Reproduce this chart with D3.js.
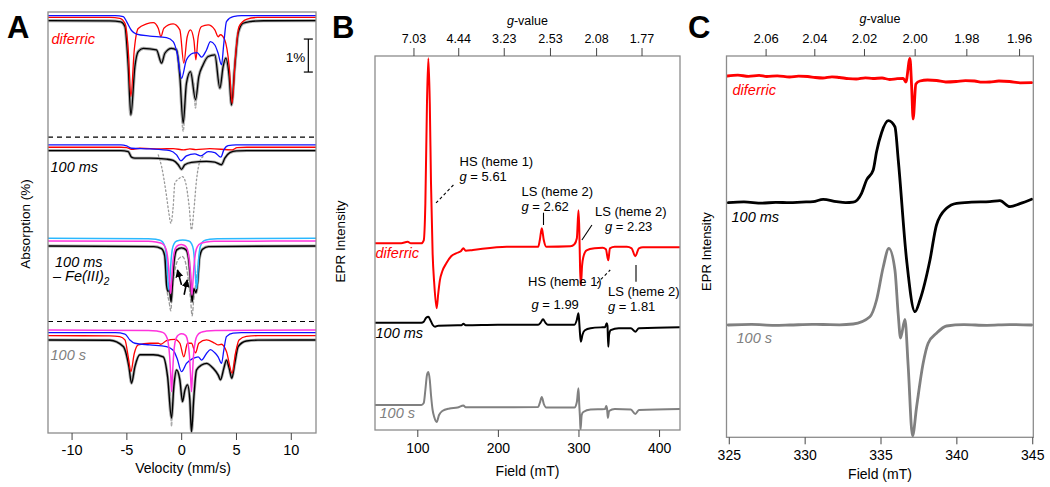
<!DOCTYPE html>
<html><head><meta charset="utf-8">
<script src="https://cdn.jsdelivr.net/npm/d3@7"></script>
<style>
body{margin:0;background:#fff;}
svg text{font-family:"Liberation Sans",Arial,Helvetica,sans-serif;}
</style></head><body>
<svg id="chart" width="1050" height="487"></svg>
<script>
// ---------------- DATA ----------------
// Panel A: Mössbauer, [velocity mm/s, absorption % relative to trace baseline]
const velocityTicks = [-10, -5, 0, 5, 10];

const diferricFit = [[-12.15,0],[-6.5,0.01],[-5.5,0.04],[-5.13,0.18],[-4.83,1.39],[-4.59,2.86],[-4.22,1.39],[-3.92,0.94],[-3.46,0.84],[-2.25,0.89],[-1.79,1.29],[-1.49,0.99],[-0.88,0.84],[-0.42,0.89],[-0.12,1.70],[0.18,3.11],[0.48,1.90],[0.85,1.55],[1.31,2.40],[1.61,1.70],[2.0,1.34],[2.46,1.09],[3.07,1.04],[3.53,2.05],[3.83,1.39],[4.07,1.14],[4.38,1.70],[4.59,2.56],[4.89,1.39],[5.2,0.38],[5.65,0.08],[6.26,0.03],[7.5,0.005],[12.3,0]];
const diferricRed = [[-12.15,0],[-6.5,0.005],[-5.6,0.03],[-5.13,0.18],[-4.83,0.99],[-4.59,2.40],[-4.28,0.99],[-3.92,0.34],[-3.16,0.20],[-2.55,0.16],[-2.09,0.33],[-1.85,0.59],[-1.58,0.33],[-0.73,0.20],[-0.12,0.38],[0.24,1.39],[0.55,0.59],[0.85,0.38],[1.16,0.69],[1.34,1.29],[1.55,0.59],[1.86,0.28],[2.46,0.23],[3.07,0.38],[3.37,0.59],[3.58,0.53],[3.98,0.69],[4.38,1.49],[4.65,2.61],[4.95,1.19],[5.28,0.28],[5.95,0.06],[7,0.005],[12.3,0]];
const diferricBlue = [[-12.15,0],[-6,0],[-5.28,0.03],[-4.98,0.18],[-4.53,0.45],[-4.07,0.56],[-2.86,0.62],[-1.34,0.67],[-0.73,0.79],[-0.37,1.14],[0.03,1.90],[0.48,1.34],[1.09,1.14],[1.46,1.12],[1.86,1.26],[2.31,1.04],[2.67,0.79],[3.07,0.89],[3.37,1.14],[3.68,1.49],[3.89,0.84],[4.13,0.18],[4.74,0.03],[5.5,0],[12.3,0]];
const diferricDataTail = [[-0.05,2.2],[0.18,3.35],[0.4,2.2],[1.15,1.9],[1.31,2.65],[1.47,1.9]];

const ms100Fit = [[-12.15,0],[-5.5,0],[-4.83,0.03],[-4.53,0.20],[-4.22,0.23],[-2.86,0.23],[-1.34,0.26],[-0.73,0.30],[-0.27,0.43],[0.03,0.57],[0.33,0.43],[0.94,0.36],[2.31,0.33],[3.07,0.35],[3.68,0.43],[3.98,0.23],[4.44,0.06],[5.04,0.01],[6,0],[12.3,0]];
const ms100Red = [[-12.15,0],[-5.5,0],[-4.98,0.01],[-4.53,0.06],[-3.77,0.03],[-1.85,0.05],[-0.73,0.04],[0.24,0.08],[0.79,0.05],[1.34,0.07],[2.61,0.04],[4.65,0.08],[5.10,0.01],[6,0],[12.3,0]];
const ms100Blue = [[-12.15,0],[-5.5,0],[-4.98,0.03],[-4.53,0.10],[-2.86,0.12],[-1.03,0.17],[-0.42,0.30],[-0.03,0.48],[0.48,0.33],[1.24,0.27],[1.79,0.33],[2.46,0.20],[3.07,0.23],[3.62,0.37],[3.89,0.15],[4.28,0.02],[5,0],[12.3,0]];
const ms100Data = [[-2.09,0.13],[-1.79,0.48],[-1.33,1.39],[-1.12,1.90],[-0.94,2.20],[-0.73,1.70],[-0.58,0.99],[-0.27,0.87],[0.12,0.79],[0.42,0.99],[0.73,1.70],[0.94,2.40],[1.16,1.80],[1.40,0.89],[1.70,0.33],[2.0,0.18]];

const diffFit = [[-12.15,0],[-2.5,0.02],[-1.8,0.08],[-1.5,0.3],[-1.33,1.2],[-1.2,1.38],[-1.08,1.3],[-0.92,1.69],[-0.78,1.1],[-0.62,0.4],[-0.4,0.12],[0.03,0.06],[0.45,0.12],[0.68,0.4],[0.86,1.1],[1.0,1.69],[1.15,1.3],[1.35,1.42],[1.5,1.1],[1.68,0.35],[1.95,0.1],[2.5,0.02],[12.3,0]];
const diffCyan = [[-12.15,0],[-3,0.01],[-2.3,0.03],[-1.85,0.07],[-1.6,0.16],[-1.42,0.35],[-1.29,0.8],[-1.19,1.35],[-1.12,1.57],[-1.05,1.35],[-0.95,0.8],[-0.82,0.35],[-0.64,0.16],[-0.4,0.08],[0.14,0.05],[0.7,0.08],[0.94,0.16],[1.12,0.35],[1.24,0.8],[1.33,1.3],[1.40,1.52],[1.47,1.3],[1.56,0.8],[1.68,0.35],[1.86,0.16],[2.1,0.07],[2.6,0.03],[3.3,0.01],[12.3,0]];
const diffMagenta = [[-12.15,0],[-3,0.01],[-2.3,0.03],[-1.8,0.07],[-1.5,0.16],[-1.3,0.35],[-1.15,0.8],[-1.04,1.35],[-0.97,1.59],[-0.9,1.35],[-0.79,0.8],[-0.64,0.35],[-0.45,0.18],[-0.2,0.12],[0.0,0.11],[0.2,0.12],[0.45,0.18],[0.64,0.35],[0.8,0.8],[0.91,1.35],[0.98,1.64],[1.05,1.35],[1.16,0.8],[1.31,0.35],[1.5,0.16],[1.8,0.07],[2.3,0.03],[3.0,0.01],[12.3,0]];
const diffData = [[-1.45,0.4],[-1.3,1.3],[-1.1,1.7],[-0.95,1.97],[-0.8,1.3],[-0.62,0.85],[-0.4,0.5],[-0.1,0.35],[0.1,0.32],[0.35,0.45],[0.6,0.9],[0.85,1.6],[1.0,2.12],[1.15,1.6],[1.35,1.1],[1.55,0.6]];
const diffArrows = [[[0.03,1.18],[-0.34,0.73]],[[0.27,1.48],[0.55,1.03]]];

const s100Fit = [[-12.15,0],[-6.5,0.01],[-5.28,0.2],[-4.77,0.81],[-4.53,1.31],[-4.22,0.81],[-3.77,0.45],[-2.55,0.45],[-1.64,0.51],[-1.24,1.11],[-0.88,2.37],[-0.67,1.41],[-0.42,0.91],[-0.12,1.21],[0.12,1.87],[0.34,1.52],[0.58,1.36],[0.79,1.82],[0.94,2.78],[1.16,1.72],[1.40,0.91],[1.86,0.76],[2.31,0.71],[2.92,0.86],[3.37,1.06],[3.59,1.21],[3.89,0.86],[4.13,0.61],[4.38,0.86],[4.62,1.16],[4.89,0.71],[5.2,0.2],[5.95,0.03],[7,0.005],[12.3,0]];
const s100Red = [[-12.15,0],[-6.5,0.005],[-5.6,0.03],[-5.13,0.13],[-4.83,0.64],[-4.59,1.09],[-4.28,0.54],[-3.92,0.28],[-2.86,0.23],[-2.09,0.23],[-1.85,0.26],[-1.34,0.15],[-0.58,0.11],[-0.12,0.23],[0.24,0.64],[0.58,0.23],[0.94,0.23],[1.31,0.52],[1.61,0.23],[2.31,0.13],[3.07,0.23],[3.37,0.28],[3.68,0.26],[4.13,0.48],[4.65,1.14],[4.95,0.54],[5.28,0.13],[5.95,0.02],[7,0],[12.3,0]];
const s100Blue = [[-12.15,0],[-6,0],[-5.13,0.04],[-4.68,0.22],[-4.22,0.32],[-2.86,0.37],[-1.34,0.42],[-0.73,0.53],[-0.37,0.78],[0.03,1.18],[0.48,0.93],[1.09,0.78],[1.55,0.73],[1.86,0.83],[2.31,0.63],[2.67,0.51],[3.07,0.61],[3.37,0.73],[3.68,0.93],[3.89,0.53],[4.13,0.12],[4.74,0.01],[5.5,0],[12.3,0]];
const s100Magenta = [[-12.15,0],[-3,0.01],[-2.2,0.03],[-1.7,0.07],[-1.4,0.16],[-1.2,0.35],[-1.05,0.8],[-0.95,1.4],[-0.88,1.87],[-0.8,1.4],[-0.7,0.8],[-0.55,0.35],[-0.35,0.18],[-0.1,0.12],[0.03,0.11],[0.2,0.12],[0.45,0.18],[0.6,0.35],[0.76,0.8],[0.86,1.4],[0.94,1.87],[1.02,1.4],[1.12,0.8],[1.28,0.35],[1.48,0.16],[1.8,0.07],[2.3,0.03],[3.1,0.01],[12.3,0]];
const s100DataTail = [[-1.0,1.6],[-0.88,2.62],[-0.77,1.6]];

// Panel B: X-band EPR, [field mT, intensity relative to left baseline]
const fieldTicksB = [100, 200, 300, 400];
const gTicksB = [7.03, 4.44, 3.23, 2.53, 2.08, 1.77];
const gFieldConstB = 669.5;   // field (mT) × g
const eprDiferric = [[47.5,0],[80,0],[88,1.5],[92,0],[105,0],[108,3],[110,40],[112,140],[113.7,185],[115.5,140],[117,60],[119,-10],[121,-40],[124,-65],[126,-50],[128,-37],[131,-28],[136,-20],[142,-13],[148,-10],[154,-8],[157.2,-5],[160,-7.5],[169,-6.7],[211,-3.5],[250,-3.5],[252,3],[254.5,15],[257,3],[260,-3.5],[290,-3],[295,-1],[298,5],[300,33],[301,15],[302,-25],[303,-42],[304.5,-22],[306,-14],[310,-7],[320,-5],[330,-4.5],[334,-6],[337,-17],[339,-5],[345,-3.5],[360,-3.5],[366,-5],[370.5,-13],[375,-5],[380,-4],[426,-4]];
const epr100ms = [[47.5,0],[105,0],[108,1],[111,5],[113.7,6],[116,3],[119,-2],[122,-4],[126,-3],[150,-2.5],[155,-2.5],[157.2,-1],[160,-2.5],[200,-2],[250,-2],[253,0],[256,3.5],[259,0],[262,-2],[295,-2],[298,3],[300,9.5],[301,0],[302,-12],[303,-19],[305,-12],[308,-7.5],[315,-5.5],[330,-4.6],[333,-4.5],[335,-0.6],[336,-3],[337,-24],[338,-12],[340,-7.5],[350,-5.5],[365,-5.5],[370.5,-9],[375,-5.5],[426,-4.6]];
const epr100s = [[47.5,0],[105,0],[108,2],[110,15],[112,30],[113.7,33],[115.5,25],[117,10],[119,-5],[121,-12],[124,-17],[127,-10],[131,-6],[140,-3.5],[150,-2.5],[157.2,-0.5],[160,-2.3],[200,-2.3],[250,-2],[252,2],[254.5,8],[257,1],[260,-2.5],[295,-2.5],[298,3],[300,16.7],[301,0],[302,-15],[302.5,-25],[304,-10],[306,-7],[315,-4.5],[333,-4],[334.5,-1],[335.5,-4],[336.5,-13],[338,-6],[345,-4],[365,-4.5],[370.5,-9],[375,-5],[426,-4]];

// Panel C: g≈2 region EPR
const fieldTicksC = [325, 330, 335, 340, 345];
const gTicksC = [2.06, 2.04, 2.02, 2.00, 1.98, 1.96];
const gFieldConstC = 674.5;
const eprCdiferric = [[324.9,0],[325.6,0.8],[326.3,-0.3],[327,0.6],[327.5,-0.5],[328.2,0.2],[329,-1],[329.6,-0.2],[330.2,-0.5],[330.7,-1.5],[331.2,-2],[331.8,-0.8],[332.3,-1.5],[332.9,-2.6],[333.4,-3],[334,-1.8],[334.5,-2.5],[335.1,-2],[335.6,-3.5],[336.1,-2.6],[336.5,-2.3],[336.67,-6],[336.94,17.7],[337.05,-10],[337.15,-43],[337.33,-8],[337.6,-5],[338.1,-4],[338.7,-4.5],[339.3,-6],[340,-5.5],[340.6,-4.6],[341.2,-5],[341.7,-6.2],[342.2,-6],[342.8,-5],[343.5,-5.5],[344.2,-6.8],[344.96,-6.7]];
const eprC100ms = [[324.96,0],[326,0.8],[327.2,-0.5],[328.1,0.4],[329.02,0],[329.8,0.6],[330.56,1],[331.22,3.4],[332.1,1],[332.7,0],[333.2,0.5],[333.75,9.4],[334.08,22.7],[334.52,32.7],[334.74,51],[335.07,70],[335.51,82],[335.95,76],[336.17,42.7],[336.72,-57.3],[337.27,-109],[337.6,-97.3],[338.26,-57.3],[338.69,-22.3],[339.35,-5.6],[340.02,-0.6],[341,0.5],[342.21,1],[342.87,2],[343.53,-4],[344.19,-1],[344.96,3.4]];
const eprC100s = [[324.96,0],[326.5,0.6],[328,-0.3],[329.02,0],[330.5,0.6],[331.22,0.5],[332.3,0.2],[333.2,1],[334.3,8.3],[334.74,25],[335.18,58],[335.55,76.7],[335.95,55],[336.17,10],[336.32,-13],[336.61,5.7],[336.82,-40],[337.11,-111],[337.38,-81.7],[337.81,-38.3],[338.14,-18.3],[338.69,-8.3],[339.35,-1],[340.5,0.3],[342,-0.3],[343.5,0.4],[344.96,0]];

// ---------------- DRAW ----------------
const svg = d3.select('#chart');
const FONT = '"Liberation Sans",Arial,Helvetica,sans-serif';
const RED = '#ff0000', BLUE = '#1010ff', MAG = '#ff33dd', CYAN = '#2ab8ff', GREY = '#808080', BOX = '#8c8c8c', DATAGREY = '#ababab';

function trace(g, data, x, y, off, color, w, dash) {
  const line = d3.line().x(d => x(d[0])).y(d => y(off + d[1])).curve(d3.curveMonotoneX);
  g.append('path').attr('d', line(data)).attr('fill', 'none').attr('stroke', color)
    .attr('stroke-width', w).attr('stroke-linejoin', 'round').attr('stroke-linecap', 'round')
    .attr('stroke-dasharray', dash || null);
}
function txt(x, y, s, size, opts = {}) {
  const t = svg.append('text').attr('x', x).attr('y', y).attr('font-size', size)
    .attr('fill', opts.fill || '#000').attr('text-anchor', opts.anchor || 'start')
    .attr('font-style', opts.italic ? 'italic' : null).attr('font-weight', opts.bold ? 'bold' : null)
    .text(s);
  if (opts.rotate) t.attr('transform', `rotate(-90,${x},${y})`);
  return t;
}
function gText(x, y, val, size) {
  const t = svg.append('text').attr('x', x).attr('y', y).attr('font-size', size);
  t.append('tspan').attr('font-style', 'italic').text('g');
  t.append('tspan').text(' = ' + val);
}
function styleAxis(g, size) {
  g.select('.domain').remove();
  g.selectAll('.tick line').attr('stroke', '#444');
  g.selectAll('.tick text').attr('font-size', size).attr('font-family', FONT).attr('fill', '#000');
}

// ----- Panel A -----
const xA = d3.scaleLinear().domain([-12.15, 12.3]).range([48, 316]);
const yA = d3.scaleLinear().domain([0, 12.76]).range([12, 433]);
svg.append('clipPath').attr('id', 'clipA').append('rect').attr('x', 48).attr('y', 12).attr('width', 268).attr('height', 421);
const gA = svg.append('g').attr('clip-path', 'url(#clipA)');

// subpanel 1: diferric
trace(gA, diferricFit, xA, yA, 0.26, DATAGREY, 3.2);
trace(gA, diferricDataTail.slice(0, 3), xA, yA, 0.26, DATAGREY, 1.4, '2,2');
trace(gA, diferricDataTail.slice(3), xA, yA, 0.26, DATAGREY, 1.4, '2,2');
trace(gA, diferricFit, xA, yA, 0.26, '#000', 1.3);
trace(gA, diferricRed, xA, yA, 0.16, RED, 1.3);
trace(gA, diferricBlue, xA, yA, 0.11, BLUE, 1.3);
// subpanel 2: 100 ms
trace(gA, ms100Fit, xA, yA, 4.20, DATAGREY, 3);
trace(gA, ms100Data, xA, yA, 4.20, '#9a9a9a', 1.3, '1.5,2.5');
trace(gA, ms100Fit, xA, yA, 4.20, '#000', 1.3);
trace(gA, ms100Red, xA, yA, 4.10, RED, 1.3);
trace(gA, ms100Blue, xA, yA, 4.03, BLUE, 1.3);
// subpanel 3: 100 ms - Fe(III)2
trace(gA, diffFit, xA, yA, 7.09, DATAGREY, 3);
trace(gA, diffData, xA, yA, 7.09, '#9a9a9a', 1.3, '3,2.5');
trace(gA, diffFit, xA, yA, 7.09, '#000', 1.4);
trace(gA, diffCyan, xA, yA, 6.86, CYAN, 1.5);
trace(gA, diffMagenta, xA, yA, 6.94, MAG, 1.5);
// subpanel 4: 100 s
trace(gA, s100Fit, xA, yA, 9.94, DATAGREY, 3);
trace(gA, s100DataTail, xA, yA, 9.94, DATAGREY, 1.3, '3,2');
trace(gA, s100Fit, xA, yA, 9.94, '#000', 1.4);
trace(gA, s100Red, xA, yA, 9.81, RED, 1.3);
trace(gA, s100Blue, xA, yA, 9.72, BLUE, 1.3);
trace(gA, s100Magenta, xA, yA, 9.64, MAG, 1.5);

// arrows
svg.append('defs').append('marker').attr('id', 'arr').attr('viewBox', '0 0 10 10')
  .attr('refX', 9).attr('refY', 5).attr('markerWidth', 5).attr('markerHeight', 5).attr('orient', 'auto')
  .append('path').attr('d', 'M0,0 L10,5 L0,10 z').attr('fill', '#000');
diffArrows.forEach(a => {
  svg.append('line').attr('x1', xA(a[0][0])).attr('y1', yA(7.09 + a[0][1]))
    .attr('x2', xA(a[1][0])).attr('y2', yA(7.09 + a[1][1]))
    .attr('stroke', '#000').attr('stroke-width', 1.6).attr('marker-end', 'url(#arr)');
});
// dashed separators
[3.79, 9.38].forEach(v => svg.append('line').attr('x1', 48).attr('x2', 316).attr('y1', yA(v)).attr('y2', yA(v))
  .attr('stroke', '#000').attr('stroke-width', 1.2).attr('stroke-dasharray', '5,4'));
// box
svg.append('rect').attr('x', 48).attr('y', 12).attr('width', 268).attr('height', 421)
  .attr('fill', 'none').attr('stroke', BOX).attr('stroke-width', 1.3);
// scale bar 1%
const sbV = 11.6, sbTop = 0.82;
svg.append('line').attr('x1', xA(sbV)).attr('x2', xA(sbV)).attr('y1', yA(sbTop)).attr('y2', yA(sbTop + 1)).attr('stroke', '#000').attr('stroke-width', 1.2);
[sbTop, sbTop + 1].forEach(v => svg.append('line').attr('x1', xA(sbV) - 4.5).attr('x2', xA(sbV) + 4.5)
  .attr('y1', yA(v)).attr('y2', yA(v)).attr('stroke', '#000').attr('stroke-width', 1.2));
txt(xA(sbV) - 3, 61.5, '1%', 13.5, { anchor: 'end' });
// axis
const axA = svg.append('g').attr('transform', 'translate(0,433)')
  .call(d3.axisBottom(xA).tickValues(velocityTicks).tickSize(7).tickPadding(5).tickFormat(d => String(d)));
styleAxis(axA, 14.5);
txt(183, 473, 'Velocity (mm/s)', 14, { anchor: 'middle' });
txt(30, 224, 'Absorption (%)', 13.5, { anchor: 'middle', rotate: true });
// labels
txt(51.5, 43.5, 'diferric', 14.5, { italic: true, fill: RED });
txt(50.5, 171.5, '100 ms', 14.5, { italic: true });
txt(55, 266.5, '100 ms', 14.5, { italic: true });
const fe = svg.append('text').attr('x', 53).attr('y', 280.5).attr('font-size', 14.5).attr('font-style', 'italic');
fe.append('tspan').text('– Fe(III)');
fe.append('tspan').attr('font-size', 10).attr('dy', 4).text('2');
txt(50.5, 360, '100 s', 14.5, { italic: true, fill: GREY });
txt(7, 38, 'A', 31, { bold: true });

// ----- Panel B -----
const xB = d3.scaleLinear().domain([47.5, 426]).range([375, 680]);
const yB = d3.scaleLinear().domain([0, 374]).range([430, 56]);
svg.append('clipPath').attr('id', 'clipB').append('rect').attr('x', 375).attr('y', 56).attr('width', 305).attr('height', 374);
const gB = svg.append('g').attr('clip-path', 'url(#clipB)');
trace(gB, eprDiferric, xB, yB, 186.7, RED, 2);
trace(gB, epr100ms, xB, yB, 107.3, '#000', 2);
trace(gB, epr100s, xB, yB, 25, GREY, 2);
svg.append('rect').attr('x', 375).attr('y', 56).attr('width', 305).attr('height', 374)
  .attr('fill', 'none').attr('stroke', BOX).attr('stroke-width', 1.3);
const axBb = svg.append('g').attr('transform', 'translate(0,430)')
  .call(d3.axisBottom(xB).tickValues(fieldTicksB).tickSize(7).tickPadding(6));
styleAxis(axBb, 14);
const axBt = svg.append('g').attr('transform', 'translate(0,56)')
  .call(d3.axisTop(xB).tickValues(gTicksB.map(g => gFieldConstB / g)).tickSize(8).tickPadding(5)
    .tickFormat((d, i) => gTicksB[i].toFixed(2)));
styleAxis(axBt, 12.5);
const gvB = svg.append('text').attr('x', 527.5).attr('y', 25).attr('font-size', 12.5).attr('text-anchor', 'middle');
gvB.append('tspan').attr('font-style', 'italic').text('g');
gvB.append('tspan').text('-value');
txt(527.5, 476, 'Field (mT)', 14, { anchor: 'middle' });
txt(345, 241.5, 'EPR Intensity', 13.5, { anchor: 'middle', rotate: true });
txt(375.5, 258, 'diferric', 14.5, { italic: true, fill: RED });
txt(375.5, 338, '100 ms', 14.5, { italic: true });
txt(379.5, 418, '100 s', 14.5, { italic: true, fill: GREY });
// annotations (field, intensity)
const annLines = [
  [[144.8, 245], [122.0, 226], true],
  [[256.6, 217.3], [256.6, 205], false],
  [[316.7, 205], [304.3, 190], false],
  [[322.9, 146.7], [339.4, 160], true],
  [[371.4, 165], [371.4, 148.3], false]
];
annLines.forEach(l => svg.append('line').attr('x1', xB(l[0][0])).attr('y1', yB(l[0][1]))
  .attr('x2', xB(l[1][0])).attr('y2', yB(l[1][1])).attr('stroke', '#000').attr('stroke-width', 1.1)
  .attr('stroke-dasharray', l[2] ? '3,2.5' : null));
txt(459.5, 166, 'HS (heme 1)', 13); gText(459.5, 180.5, '5.61', 13);
txt(521.5, 196, 'LS (heme 2)', 13); gText(521.5, 210.5, '2.62', 13);
txt(595, 216, 'LS (heme 2)', 13); gText(605, 230.5, '2.23', 13);
txt(528, 286, 'HS (heme 1)', 13); gText(531.5, 309, '1.99', 13);
txt(608, 296, 'LS (heme 2)', 13); gText(608, 310.5, '1.81', 13);
txt(332, 38, 'B', 31, { bold: true });

// ----- Panel C -----
const xC = d3.scaleLinear().domain([324.85, 345.07]).range([726.5, 1033.3]);
const yC = d3.scaleLinear().domain([0, 381.3]).range([437.3, 56]);
svg.append('clipPath').attr('id', 'clipC').append('rect').attr('x', 726.5).attr('y', 56).attr('width', 306.8).attr('height', 381.3);
const gC = svg.append('g').attr('clip-path', 'url(#clipC)');
trace(gC, eprCdiferric, xC, yC, 361.3, RED, 2.8);
trace(gC, eprC100ms, xC, yC, 234.6, '#000', 2.8);
trace(gC, eprC100s, xC, yC, 112.3, GREY, 2.8);
svg.append('rect').attr('x', 726.5).attr('y', 56).attr('width', 306.8).attr('height', 381.3)
  .attr('fill', 'none').attr('stroke', BOX).attr('stroke-width', 1.3);
const axCb = svg.append('g').attr('transform', 'translate(0,437.3)')
  .call(d3.axisBottom(xC).tickValues(fieldTicksC).tickSize(7).tickPadding(6));
styleAxis(axCb, 14);
const axCt = svg.append('g').attr('transform', 'translate(0,56)')
  .call(d3.axisTop(xC).tickValues(gTicksC.map(g => gFieldConstC / g)).tickSize(7).tickPadding(6)
    .tickFormat((d, i) => gTicksC[i].toFixed(2)));
styleAxis(axCt, 13);
const gvC = svg.append('text').attr('x', 880).attr('y', 23).attr('font-size', 12.5).attr('text-anchor', 'middle');
gvC.append('tspan').attr('font-style', 'italic').text('g');
gvC.append('tspan').text('-value');
txt(880, 479, 'Field (mT)', 14, { anchor: 'middle' });
txt(711, 251.5, 'EPR Intensity', 13, { anchor: 'middle', rotate: true });
txt(732.5, 95, 'diferric', 14.5, { italic: true, fill: RED });
txt(731.5, 221.5, '100 ms', 14.5, { italic: true });
txt(736.5, 343, '100 s', 14.5, { italic: true, fill: GREY });
txt(688, 38, 'C', 31, { bold: true });
</script>
</body></html>
